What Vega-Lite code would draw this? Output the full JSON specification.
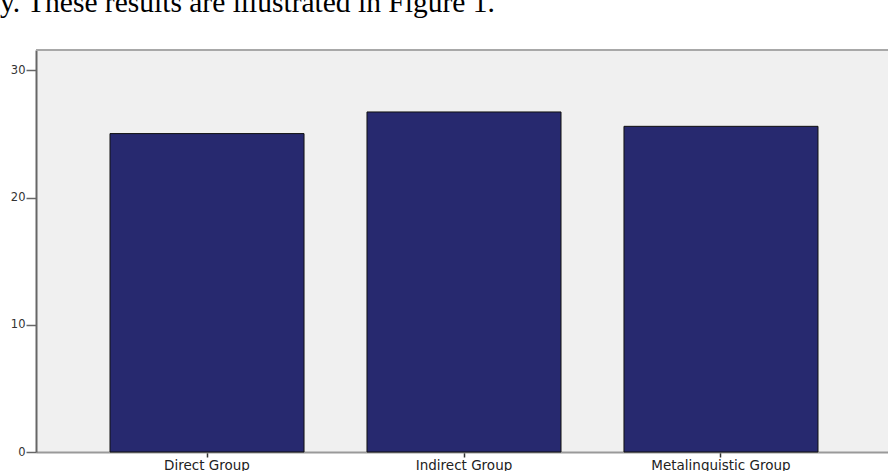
{
  "$schema": "https://vega.github.io/schema/vega-lite/v6.json",
  "autosize": "none",
  "width": 852,
  "height": 402,
  "padding": {"left": 36, "top": 50, "right": 0, "bottom": 19},
  "background": "white",
  "title": {
    "text": "y. These results are illustrated in Figure 1.",
    "anchor": "start",
    "frame": "group",
    "orient": "top",
    "dx": -36,
    "offset": 8,
    "baseline": "alphabetic",
    "font": "Liberation Serif",
    "fontSize": 29.5,
    "fontWeight": "normal",
    "color": "#000000"
  },
  "config": {
    "view": {"stroke": null, "fill": "#f0f0f0"}
  },
  "data": {
    "values": [
      {"group": "Direct Group", "value": 25.03},
      {"group": "Indirect Group", "value": 26.73},
      {"group": "Metalinguistic Group", "value": 25.6}
    ]
  },
  "layer": [
    {
      "mark": {"type": "bar", "color": "#27296f", "stroke": "#111111", "strokeWidth": 1},
      "encoding": {
        "x": {
          "field": "group",
          "type": "nominal",
          "sort": null,
          "scale": {"range": [0, 856], "paddingInner": 0.245, "paddingOuter": 0.288},
          "axis": {
            "title": null,
            "labelAngle": 0,
            "labelFont": "DejaVu Sans",
            "labelFontSize": 13.5,
            "labelColor": "#222222",
            "labelPadding": 1,
            "domainColor": "#9a9a9a",
            "domainWidth": 2,
            "tickColor": "#333333",
            "tickSize": 5,
            "tickWidth": 1.5
          }
        },
        "y": {
          "field": "value",
          "type": "quantitative",
          "scale": {"domain": [0, 31.6], "nice": false},
          "axis": {
            "title": null,
            "values": [0, 10, 20, 30],
            "grid": false,
            "labelFont": "DejaVu Sans",
            "labelFontSize": 11.5,
            "labelColor": "#333333",
            "labelPadding": 1,
            "domainColor": "#666666",
            "domainWidth": 2,
            "tickColor": "#666666",
            "tickSize": 10,
            "tickWidth": 1.5
          }
        }
      }
    },
    {
      "mark": {"type": "rule", "color": "#a8a8a8", "strokeWidth": 2},
      "encoding": {"y": {"datum": 31.6}}
    }
  ]
}
